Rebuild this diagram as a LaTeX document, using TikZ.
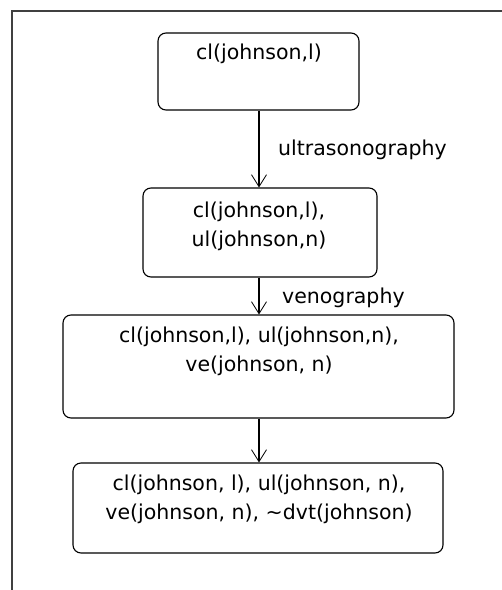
\documentclass[tikz,border=0pt]{standalone}
\usepackage{fontspec}
\setmainfont{DejaVu Sans}
\usetikzlibrary{arrows.meta}
\tikzset{
  statebox/.style={draw=black, line width=1.1pt, rounded corners=8pt, inner sep=0pt},
  boxtext/.style={anchor=base, inner sep=0pt, align=center, font=\fontsize{20.5}{28.5}\selectfont},
  edgelabel/.style={anchor=base west, inner sep=0pt, font=\fontsize{20.5}{28.5}\selectfont},
  flow/.style={line width=1.1pt, -{Straight Barb[length=12pt,width=15pt,line width=0.8pt]}},
  frame/.style={line width=1.4pt, draw=black!75}
}
\begin{document}
\begin{tikzpicture}[x=1pt,y=-1pt]
\useasboundingbox (0,0) rectangle (502,590);
\draw[frame] (12,590) -- (12,11) -- (502,11);
\node[statebox, minimum width=201pt, minimum height=77pt] (b1) at (258.5,71.5) {};
\node[statebox, minimum width=234pt, minimum height=89pt] (b2) at (260,232.5) {};
\node[statebox, minimum width=391pt, minimum height=103pt] (b3) at (258.5,366.5) {};
\node[statebox, minimum width=370pt, minimum height=90pt] (b4) at (258,508) {};
\node[boxtext] (t1) at (259,59) {cl(johnson,l)};
\node[boxtext] (t2) at (259,246) {cl(johnson,l),\\ul(johnson,n)};
\node[boxtext] (t3) at (259,371) {cl(johnson,l), ul(johnson,n),\\ve(johnson, n)};
\node[boxtext] (t4) at (259,519) {cl(johnson, l), ul(johnson, n),\\ve(johnson, n), \textasciitilde dvt(johnson)};
\draw[flow] (b1.south -| 259,0) -- (b2.north -| 259,0);
\draw[flow] (b2.south -| 259,0) -- (b3.north -| 259,0);
\draw[flow] (b3.south -| 259,0) -- (b4.north -| 259,0);
\node[edgelabel] (l1) at (278,155) {ultrasonography};
\node[edgelabel] (l2) at (282,303) {venography};
\end{tikzpicture}
\end{document}
